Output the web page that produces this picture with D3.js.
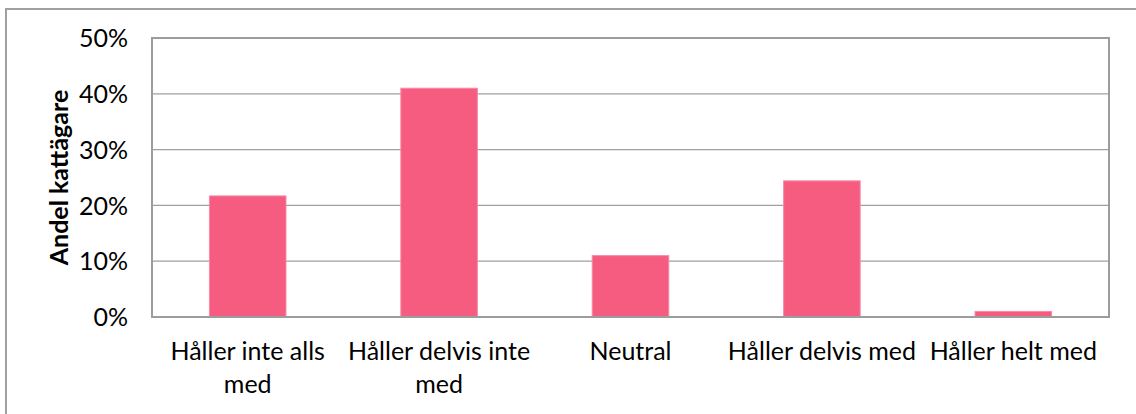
<!DOCTYPE html>
<html><head><meta charset="utf-8">
<script src="https://cdn.jsdelivr.net/npm/d3@7"></script>
<style>body{margin:0;background:#fff}svg{display:block}</style>
</head><body>
<script>
const categories = [["Håller inte alls","med"],["Håller delvis inte","med"],["Neutral"],["Håller delvis med"],["Håller helt med"]];
const values = [0.217, 0.410, 0.110, 0.244, 0.010];
const yTicks = [0, 0.1, 0.2, 0.3, 0.4, 0.5];
const yTitle = "Andel kattägare";

const W = 1136, H = 414;
const m = {left:152, right:1109, top:38, bottom:317};
const svg = d3.select("body").append("svg").attr("width",W).attr("height",H);
svg.append("rect").attr("x",6).attr("y",9).attr("width",1140).attr("height",420)
  .attr("fill","#fff").attr("stroke","#a0a0a0").attr("stroke-width",2);

const x = d3.scaleBand().domain(categories.map((d,i)=>i)).range([m.left,m.right]).paddingInner(0.6).paddingOuter(0.3);
const y = d3.scaleLinear().domain([0,0.5]).range([m.bottom,m.top]);

svg.append("g").selectAll("line").data(yTicks).join("line")
  .attr("x1",m.left).attr("x2",m.right).attr("y1",d=>y(d)).attr("y2",d=>y(d))
  .attr("stroke","#a0a0a0").attr("stroke-width",1.3);

svg.append("g").selectAll("rect").data(values).join("rect")
  .attr("x",(d,i)=>x(i)).attr("width",x.bandwidth())
  .attr("y",d=>y(d)).attr("height",d=>y(0)-y(d))
  .attr("fill","#f65b80").attr("stroke","#f88aa4").attr("stroke-width",1);

// plot frame
svg.append("rect").attr("x",m.left).attr("y",m.top).attr("width",m.right-m.left).attr("height",m.bottom-m.top)
  .attr("fill","none").attr("stroke","#9c9c9c").attr("stroke-width",2);

const yAxis = d3.axisLeft(y).tickValues(yTicks).tickFormat(d3.format(".0%")).tickSize(0).tickPadding(24);
const ga = svg.append("g").attr("transform",`translate(${m.left},0)`).call(yAxis);
ga.select(".domain").remove();
ga.selectAll("text").attr("font-family","Lato, sans-serif").attr("font-size",25).attr("fill","#000").attr("dy","0.35em");

const gx = svg.append("g");
categories.forEach((lines,i)=>{
  const t = gx.append("text").attr("x",x(i)+x.bandwidth()/2).attr("y",360)
    .attr("text-anchor","middle").attr("font-family","Lato, sans-serif").attr("font-size",25).attr("fill","#000");
  lines.forEach((l,j)=>t.append("tspan").attr("x",x(i)+x.bandwidth()/2).attr("dy",j?33:0).text(l));
});

svg.append("text").attr("transform",`translate(68,${(m.top+m.bottom)/2}) rotate(-90)`)
  .attr("text-anchor","middle").attr("font-family","Lato, sans-serif").attr("font-weight","bold")
  .attr("font-size",25).attr("fill","#000").text(yTitle);
</script>
</body></html>
